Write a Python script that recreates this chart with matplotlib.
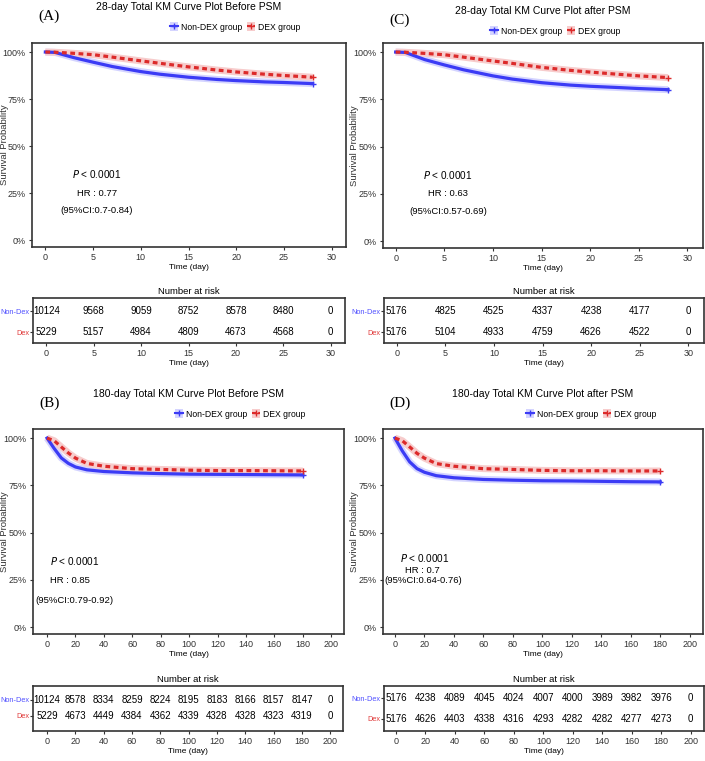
import matplotlib
matplotlib.use("Agg")
import matplotlib.pyplot as plt
from matplotlib import font_manager
from matplotlib.lines import Line2D
from matplotlib.patches import Patch

# ---- data ----
# 28-day curves (days, survival)
t28 = [0, 1, 3, 5, 7, 10, 12, 15, 18, 20, 23, 25, 28]
a_nondex = [1.0, 0.998, 0.970, 0.946, 0.923, 0.896, 0.882, 0.866, 0.854, 0.848, 0.841, 0.838, 0.832]
a_dex = [1.0, 0.999, 0.993, 0.986, 0.973, 0.953, 0.940, 0.921, 0.904, 0.894, 0.882, 0.875, 0.866]
c_nondex = [1.0, 0.998, 0.960, 0.932, 0.906, 0.874, 0.857, 0.838, 0.825, 0.819, 0.812, 0.807, 0.801]
c_dex = [1.0, 0.999, 0.993, 0.986, 0.973, 0.953, 0.940, 0.919, 0.903, 0.894, 0.882, 0.874, 0.865]

# 180-day curves
t180 = [0, 5, 10, 15, 20, 28, 40, 60, 80, 100, 120, 140, 160, 180]
b_nondex = [1.0, 0.945, 0.895, 0.866, 0.847, 0.832, 0.823, 0.816, 0.812, 0.809, 0.808, 0.807, 0.806, 0.805]
b_dex = [1.0, 0.986, 0.953, 0.921, 0.894, 0.866, 0.851, 0.838, 0.834, 0.830, 0.828, 0.828, 0.827, 0.826]
d_nondex = [1.0, 0.932, 0.874, 0.838, 0.819, 0.801, 0.790, 0.781, 0.777, 0.774, 0.773, 0.771, 0.769, 0.768]
d_dex = [1.0, 0.986, 0.953, 0.919, 0.894, 0.865, 0.851, 0.838, 0.834, 0.829, 0.827, 0.827, 0.826, 0.826]

# number at risk
risk_t28 = [0, 5, 10, 15, 20, 25, 30]
a_risk_nondex = [10124, 9568, 9059, 8752, 8578, 8480, 0]
a_risk_dex = [5229, 5157, 4984, 4809, 4673, 4568, 0]
c_risk_nondex = [5176, 4825, 4525, 4337, 4238, 4177, 0]
c_risk_dex = [5176, 5104, 4933, 4759, 4626, 4522, 0]

risk_t180 = [0, 20, 40, 60, 80, 100, 120, 140, 160, 180, 200]
b_risk_nondex = [10124, 8578, 8334, 8259, 8224, 8195, 8183, 8166, 8157, 8147, 0]
b_risk_dex = [5229, 4673, 4449, 4384, 4362, 4339, 4328, 4328, 4323, 4319, 0]
d_risk_nondex = [5176, 4238, 4089, 4045, 4024, 4007, 4000, 3989, 3982, 3976, 0]
d_risk_dex = [5176, 4626, 4403, 4338, 4316, 4293, 4282, 4282, 4277, 4273, 0]

titles = ["28-day Total KM Curve Plot Before PSM", "28-day Total KM Curve Plot after PSM",
          "180-day Total KM Curve Plot Before PSM", "180-day Total KM Curve Plot after PSM"]
panel_tags = ["(A)", "(C)", "(B)", "(D)"]
hr_text = ["HR : 0.77", "HR : 0.63", "HR : 0.85", "HR : 0.7"]
ci_text = ["(95%CI:0.7-0.84)", "(95%CI:0.57-0.69)", "(95%CI:0.79-0.92)", "(95%CI:0.64-0.76)"]

# ---- fonts ----
names = {f.name for f in font_manager.fontManager.ttflist}
NARROW = next((n for n in ["Liberation Sans Narrow", "Arial Narrow", "Liberation Sans", "DejaVu Sans"]
               if n in names))
SANS = "Liberation Sans" if "Liberation Sans" in names else "DejaVu Sans"
SERIF = "Liberation Serif" if "Liberation Serif" in names else "DejaVu Serif"

BLUE = "#3b3bf5"
RED = "#dc2a2a"
BLUE_BAND = "#d4d4ff"
RED_BAND = "#f7cccc"
GREY = "#333333"

W, H = 705, 761
fig = plt.figure(figsize=(W / 100, H / 100), dpi=100)


def rect(l, t, r, b):
    return [l / W, 1 - b / H, (r - l) / W, (b - t) / H]


def frame(ax):
    for s in ax.spines.values():
        s.set_color(GREY)
        s.set_linewidth(1.2)


def panel(box, tbox, ytop, t, nondex, dex, xlim, xticks, rt, rnd, rdx, tylim,
          ann_x, ann_y, i, legx, ylab_x):
    l, r = box[0], box[2]
    ax = fig.add_axes(rect(*box))
    ax.plot(t, nondex, color=BLUE_BAND, lw=5, solid_capstyle="butt", zorder=1)
    ax.plot(t, dex, color=RED_BAND, lw=5, solid_capstyle="butt", zorder=1)
    ax.plot(t, nondex, color=BLUE, lw=2.3, zorder=3)
    ax.plot(t, dex, color=RED, lw=2.3, dashes=(1.5, 1.1), zorder=3)
    ax.plot(t[-1], nondex[-1], "+", color=BLUE, ms=5, mew=1, zorder=4)
    ax.plot(t[-1], dex[-1], "+", color=RED, ms=5, mew=1, zorder=4)
    ax.set_xlim(*xlim)
    ax.set_ylim(-0.037, 1.048)
    ax.set_xticks(xticks)
    ax.set_yticks([0, 0.25, 0.5, 0.75, 1.0])
    ax.set_yticklabels(["0%", "25%", "50%", "75%", "100%"])
    ax.tick_params(labelsize=6.5, length=2.5, pad=2, color=GREY, labelcolor=GREY)
    for lab in ax.get_xticklabels() + ax.get_yticklabels():
        lab.set_family(NARROW)
    ax.set_xlabel("Time (day)", fontsize=6, family=NARROW, labelpad=1)
    ax.set_ylabel("Survival Probability", fontsize=6.8, family=SANS, color=GREY)
    ax.yaxis.set_label_coords((ylab_x - l) / (r - l), 0.5)
    frame(ax)

    ax.text(ann_x[0], ann_y[0], "$P$ < 0.0001", ha="center", va="center", fontsize=7.2, family=NARROW)
    ax.text(ann_x[1], ann_y[1], hr_text[i], ha="center", va="center", fontsize=6.8, family=NARROW)
    ax.text(ann_x[2], ann_y[2], ci_text[i], ha="center", va="center", fontsize=6.8, family=NARROW)

    # title, tag, legend
    cx = (l + r) / 2
    fig.text(cx / W, 1 - ytop / H, titles[i], ha="center", va="center", fontsize=7.5, family=NARROW)
    fig.text((l + 6) / W, 1 - (ytop + 9) / H, panel_tags[i], ha="left", va="center",
             fontsize=11, family=SERIF)
    handles = [(Patch(facecolor=BLUE_BAND, edgecolor="none"),
                Line2D([], [], color=BLUE, lw=1.5, marker="+", ms=5)),
               (Patch(facecolor=RED_BAND, edgecolor="none"),
                Line2D([], [], color=RED, lw=1.5, ls=(0, (2, 1)), marker="+", ms=5))]
    fig.legend(handles, ["Non-DEX group", "DEX group"], loc="center",
               bbox_to_anchor=(legx / W, 1 - (ytop + 20) / H), ncol=2, frameon=False,
               prop={"family": NARROW, "size": 6.2}, handlelength=1.0, handleheight=1.1,
               handletextpad=0.3, columnspacing=0.5, borderpad=0)

    # risk table
    tx = fig.add_axes(rect(*tbox))
    tx.set_xlim(*xlim)
    tx.set_ylim(*tylim)
    for k, x in enumerate(rt):
        tx.text(x, 1, str(rnd[k]), ha="center", va="center", fontsize=7, family=NARROW)
        tx.text(x, 0, str(rdx[k]), ha="center", va="center", fontsize=7, family=NARROW)
    tx.set_xticks(rt)
    tx.set_yticks([1, 0])
    tx.set_yticklabels(["Non-Dex", "Dex"])
    tx.get_yticklabels()[0].set_color("#5050ff")
    tx.get_yticklabels()[1].set_color("#e03a3a")
    tx.tick_params(axis="y", labelsize=5.3, length=2, pad=0.8, color=GREY)
    tx.tick_params(axis="x", labelsize=6.5, length=2.5, pad=2, color=GREY, labelcolor=GREY)
    for lab in tx.get_yticklabels() + tx.get_xticklabels():
        lab.set_family(NARROW)
    tx.set_xlabel("Time (day)", fontsize=6, family=NARROW, labelpad=1)
    tx.set_title("Number at risk", fontsize=6.8, family=NARROW, pad=3)
    frame(tx)


panel((32, 43, 346, 247), (33, 298, 345, 343), 7, t28, a_nondex, a_dex, (-1.4, 31.5),
      [0, 5, 10, 15, 20, 25, 30], risk_t28, a_risk_nondex, a_risk_dex, (-0.52, 1.62),
      [5.4, 5.4, 5.4], [0.35, 0.25, 0.155], 0, 235, 9)
panel((383, 43, 703, 248), (384, 298, 704, 343), 11, t28, c_nondex, c_dex, (-1.3, 31.6),
      [0, 5, 10, 15, 20, 25, 30], risk_t28, c_risk_nondex, c_risk_dex, (-0.52, 1.62),
      [5.4, 5.4, 5.4], [0.35, 0.25, 0.155], 1, 555, 359)
panel((33, 429, 344, 634), (33, 686, 343, 731), 394, t180, b_nondex, b_dex, (-9.9, 209),
      [0, 20, 40, 60, 80, 100, 120, 140, 160, 180, 200], risk_t180, b_risk_nondex, b_risk_dex,
      (-0.94, 1.875), [19.5, 16, 19], [0.35, 0.245, 0.14], 2, 240, 9)
panel((383, 429, 703, 634), (384, 686, 704, 731), 394, t180, d_nondex, d_dex, (-8.1, 209),
      [0, 20, 40, 60, 80, 100, 120, 140, 160, 180, 200], risk_t180, d_risk_nondex, d_risk_dex,
      (-0.62, 1.62), [20, 18.5, 19.5], [0.365, 0.30, 0.245], 3, 591, 359)

fig.savefig("out.png", dpi=100)
